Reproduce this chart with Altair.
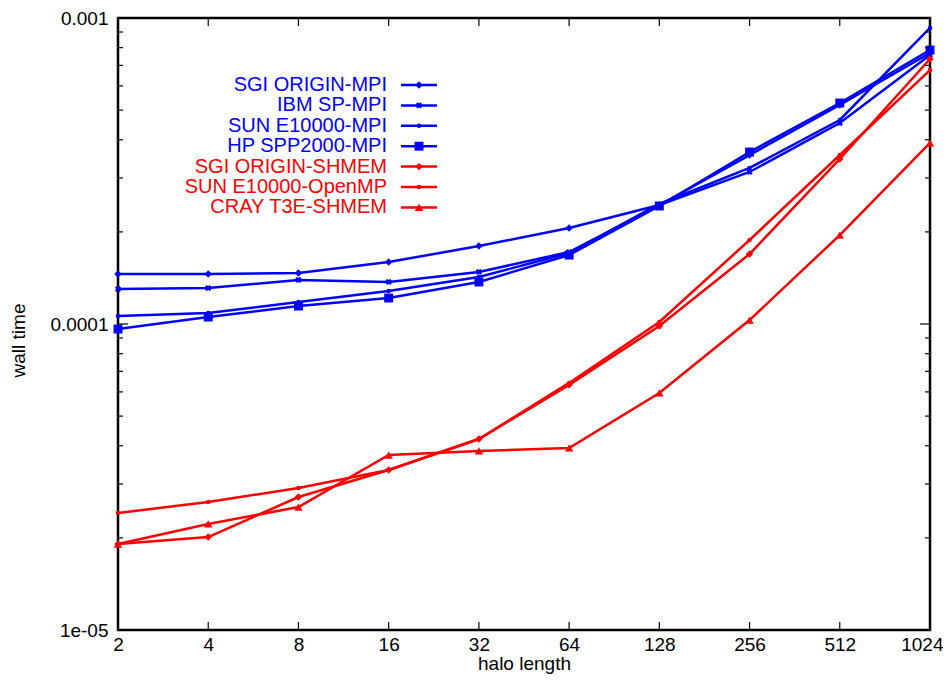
import altair as alt
import pandas as pd

halo = [2, 4, 8, 16, 32, 64, 128, 256, 512, 1024]

series_names = [
    "SGI ORIGIN-MPI",
    "IBM SP-MPI",
    "SUN E10000-MPI",
    "HP SPP2000-MPI",
    "SGI ORIGIN-SHMEM",
    "SUN E10000-OpenMP",
    "CRAY T3E-SHMEM",
]

sgi_mpi = [1.457e-4, 1.457e-4, 1.468e-4, 1.594e-4, 1.798e-4, 2.059e-4, 2.448e-4, 3.566e-4, 5.195e-4, 7.685e-4]
ibm_mpi = [1.301e-4, 1.311e-4, 1.393e-4, 1.372e-4, 1.479e-4, 1.719e-4, 2.448e-4, 3.139e-4, 4.538e-4, 7.570e-4]
sun_mpi = [1.062e-4, 1.086e-4, 1.180e-4, 1.281e-4, 1.424e-4, 1.706e-4, 2.467e-4, 3.236e-4, 4.642e-4, 9.276e-4]
hp_mpi = [9.63e-5, 1.054e-4, 1.145e-4, 1.216e-4, 1.372e-4, 1.680e-4, 2.430e-4, 3.647e-4, 5.275e-4, 7.858e-4]
sgi_shmem = [1.910e-5, 2.013e-5, 2.720e-5, 3.333e-5, 4.209e-5, 6.324e-5, 9.85e-5, 1.693e-4, 3.461e-4, 7.345e-4]
sun_openmp = [2.412e-5, 2.620e-5, 2.911e-5, 3.333e-5, 4.209e-5, 6.419e-5, 1.015e-4, 1.881e-4, 3.566e-4, 6.76e-4]
cray_shmem = [1.910e-5, 2.221e-5, 2.523e-5, 3.731e-5, 3.846e-5, 3.934e-5, 5.95e-5, 1.030e-4, 1.953e-4, 3.904e-4]

all_values = [sgi_mpi, ibm_mpi, sun_mpi, hp_mpi, sgi_shmem, sun_openmp, cray_shmem]

y_major = [1e-5, 1e-4, 1e-3]
y_minor = [2e-5, 3e-5, 4e-5, 5e-5, 6e-5, 7e-5, 8e-5, 9e-5,
           2e-4, 3e-4, 4e-4, 5e-4, 6e-4, 7e-4, 8e-4, 9e-4]

BLUE = "#0000ff"
RED = "#ff0000"
colors = [BLUE, BLUE, BLUE, BLUE, RED, RED, RED]
shapes = ["diamond", "cross", "circle", "square", "diamond", "circle", "triangle-up"]
sizes = [55, 40, 20, 80, 55, 20, 70]
angles = [0, 45, 0, 0, 0, 0, 0]

rows = []
for name, vals in zip(series_names, all_values):
    for h, v in zip(halo, vals):
        rows.append({"series": name, "halo": h, "time": v})
df = pd.DataFrame(rows)

W, H = 812, 612
FONT = "Liberation Sans"
FS = 19

xscale = alt.Scale(type="log", base=2, domain=[2, 1024], nice=False)
yscale = alt.Scale(type="log", domain=[1e-5, 1e-3], nice=False)

xaxis = alt.Axis(
    values=halo, format="d", ticks=False, tickSize=0, domain=False, grid=False,
    labelFontSize=FS, labelFont=FONT, labelColor="black", labelPadding=5,
    labelFlush=False, labelOverlap=False,
    labelAlign=alt.condition("datum.value > 1000", alt.value("right"), alt.value("center")),
    labelOffset=alt.condition("datum.value > 1000", alt.value(13), alt.value(0)),
    title="halo length", titleFont=FONT, titleFontSize=FS, titleFontWeight="normal",
    titleColor="black", titleX=W / 2, titleY=33, titleBaseline="middle",
)
yaxis = alt.Axis(
    values=y_major, ticks=False, tickSize=0, domain=False, grid=False,
    labelExpr="datum.value < 5e-5 ? '1e-05' : (datum.value < 5e-4 ? '0.0001' : '0.001')",
    labelFontSize=FS, labelFont=FONT, labelColor="black", labelPadding=10,
    labelFlush=False, labelOverlap=False,
    title="wall time", titleFont=FONT, titleFontSize=FS, titleFontWeight="normal",
    titleColor="black", titleX=-100, titleY=322, titleBaseline="middle", titleAngle=270,
)

X = alt.X("halo:Q", scale=xscale, axis=xaxis)
Y = alt.Y("time:Q", scale=yscale, axis=yaxis)

lines = alt.Chart(df).mark_line(strokeWidth=2.5).encode(
    x=X, y=Y,
    color=alt.Color("series:N", scale=alt.Scale(domain=series_names, range=colors), legend=None),
    detail="series:N",
    order="halo:Q",
)

layers = [lines]

for name, col, shp, sz, ang in zip(series_names, colors, shapes, sizes, angles):
    pts = alt.Chart(df).transform_filter(alt.datum.series == name).mark_point(
        shape=shp, size=sz, filled=True, color=col, opacity=1, angle=ang
    ).encode(x=X, y=Y)
    layers.append(pts)

# inward ticks (gnuplot style), mirrored on all four sides
ymaj_df = pd.DataFrame({"time": y_major})
ymin_df = pd.DataFrame({"time": y_minor})
xt_df = pd.DataFrame({"halo": halo[1:-1]})


def ytick(data, x0, x1):
    return alt.Chart(data).mark_rule(color="black", strokeWidth=1.2).encode(
        y=Y, x=alt.value(x0), x2=alt.value(x1),
    )


def xtick(data, y0, y1):
    return alt.Chart(data).mark_rule(color="black", strokeWidth=1.2).encode(
        x=X, y=alt.value(y0), y2=alt.value(y1),
    )


layers += [
    ytick(ymaj_df, 0, 10), ytick(ymaj_df, W - 10, W),
    ytick(ymin_df, 0, 5), ytick(ymin_df, W - 5, W),
    xtick(xt_df, H - 8, H), xtick(xt_df, 0, 8),
]

# legend (inside plot, labels left of samples)
row0, drow = 67, 20.4
text_right, line_x0, line_x1 = 269, 283, 319
for i, (name, col, shp, sz, ang) in enumerate(zip(series_names, colors, shapes, sizes, angles)):
    yy = row0 + drow * i
    layers.append(
        alt.Chart(pd.DataFrame({"t": [name]})).mark_text(
            align="right", baseline="middle", font=FONT, fontSize=20, color=col
        ).encode(text="t:N", x=alt.value(text_right), y=alt.value(yy))
    )
    layers.append(
        alt.Chart(pd.DataFrame({"t": [name]})).mark_rule(color=col, strokeWidth=2.5).encode(
            x=alt.value(line_x0), x2=alt.value(line_x1), y=alt.value(yy)
        )
    )
    layers.append(
        alt.Chart(pd.DataFrame({"t": [name]})).mark_point(
            shape=shp, size=sz, filled=True, color=col, opacity=1, angle=ang
        ).encode(x=alt.value((line_x0 + line_x1) / 2), y=alt.value(yy))
    )

chart = alt.layer(*layers).properties(
    width=W, height=H,
    autosize=alt.AutoSizeParams(type="none"),
    padding={"left": 110, "top": 10, "right": 13, "bottom": 50},
    background="white",
).configure_view(
    stroke="black", strokeWidth=2.5
).configure_axis(
    labelFontSize=FS, labelFont=FONT, labelColor="black",
    titleFontSize=FS, titleFont=FONT, titleFontWeight="normal", titleColor="black",
)

chart.save("out.html", embed_options={"renderer": "svg", "actions": False})
